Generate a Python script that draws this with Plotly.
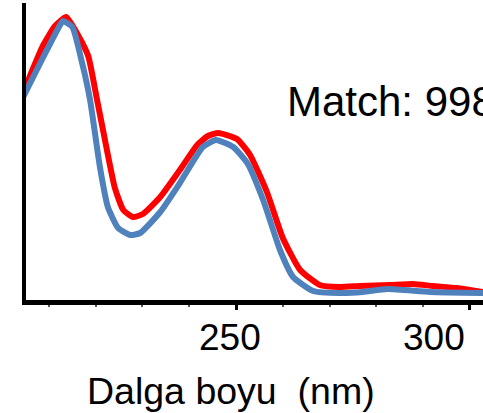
import plotly.graph_objects as go

# Wavelength (nm) and absorbance-like intensities (arbitrary units)
red_wavelength = [204.7, 208.8, 211.3, 213.7, 216.2, 218.4, 220.3, 222.4, 224.1, 225.9,
                  228.0, 230.1, 233.8, 238.0, 241.7, 244.0, 246.2, 250.2, 253.0, 256.6,
                  260.0, 263.7, 267.9, 272.2, 276.5, 282.9, 287.8, 292.1, 297.2, 302.8]
red_values = [210, 255, 274, 283, 265, 244, 200, 150, 112, 90,
              83, 86, 103, 130, 155, 164, 167, 161, 145, 108,
              62, 30, 15, 13, 14, 15, 16, 14, 12, 8]

blue_wavelength = [203.8, 204.7, 208.8, 211.8, 213.0, 215.0, 217.1, 218.8, 220.9, 222.6,
                   224.8, 227.4, 229.5, 233.8, 238.0, 242.9, 245.7, 249.4, 252.4, 255.8,
                   259.4, 262.2, 266.5, 272.2, 277.1, 282.3, 291.5, 302.8]
blue_values = [197, 205, 243, 270, 279, 273, 237, 200, 133, 93,
               72, 65, 67, 88, 117, 153, 160, 153, 137, 100,
               50, 23, 9, 7, 8, 11, 8, 7]

tick_values = [250, 300]
tick_labels = ["250", "300"]
minor_tick_values = [210, 220, 230, 240, 260, 270, 280, 290]
x_title = "Dalga boyu\u00a0\u00a0(nm)"
match_text = "Match: 998"

FONT = "Arial, 'Liberation Sans', sans-serif"
L, W = 26, 457

fig = go.Figure()
fig.add_trace(go.Scatter(x=red_wavelength, y=red_values, mode="lines",
                         line=dict(color="#FF0000", width=6, shape="spline", smoothing=0.5),
                         hoverinfo="skip"))
fig.add_trace(go.Scatter(x=blue_wavelength, y=blue_values, mode="lines",
                         line=dict(color="#4F81BD", width=6, shape="spline", smoothing=0.5),
                         hoverinfo="skip"))

fig.update_xaxes(range=[205.1, 302.8], showline=True, linecolor="black", linewidth=5,
                 showgrid=False, zeroline=False,
                 tickmode="array", tickvals=tick_values, ticktext=["", ""],
                 ticks="outside", ticklen=5, tickwidth=3, tickcolor="black",
                 minor=dict(tickmode="array", tickvals=minor_tick_values, ticks="outside",
                            ticklen=2, tickwidth=2, tickcolor="#555555"))
fig.update_yaxes(range=[0, 297], showline=True, linecolor="black", linewidth=4,
                 showgrid=False, zeroline=False, showticklabels=False, ticks="")

annotations = []
for i, (v, t) in enumerate(zip(tick_values, tick_labels)):
    last = i == len(tick_values) - 1
    annotations.append(dict(x=v, y=0, xref="x", yref="paper", text=t, showarrow=False,
                            xanchor="right" if last else "center", yanchor="top",
                            xshift=-3 if last else -6, yshift=-15,
                            font=dict(family=FONT, size=37, color="black")))
annotations.append(dict(x=(230.5 - L) / W, y=0, xref="paper", yref="paper", text=x_title,
                        showarrow=False, xanchor="center", yanchor="top", yshift=-68,
                        font=dict(family=FONT, size=37.5, color="black")))
annotations.append(dict(x=(285 - L) / W, y=(300 - 76) / 297, xref="paper", yref="paper",
                        text=match_text, showarrow=False, xanchor="left", yanchor="top",
                        font=dict(family=FONT, size=42, color="black")))

fig.update_layout(width=483, height=413, margin=dict(l=L, r=0, t=3, b=113),
                  paper_bgcolor="white", plot_bgcolor="white", showlegend=False,
                  annotations=annotations)

fig.write_html("out.html")
